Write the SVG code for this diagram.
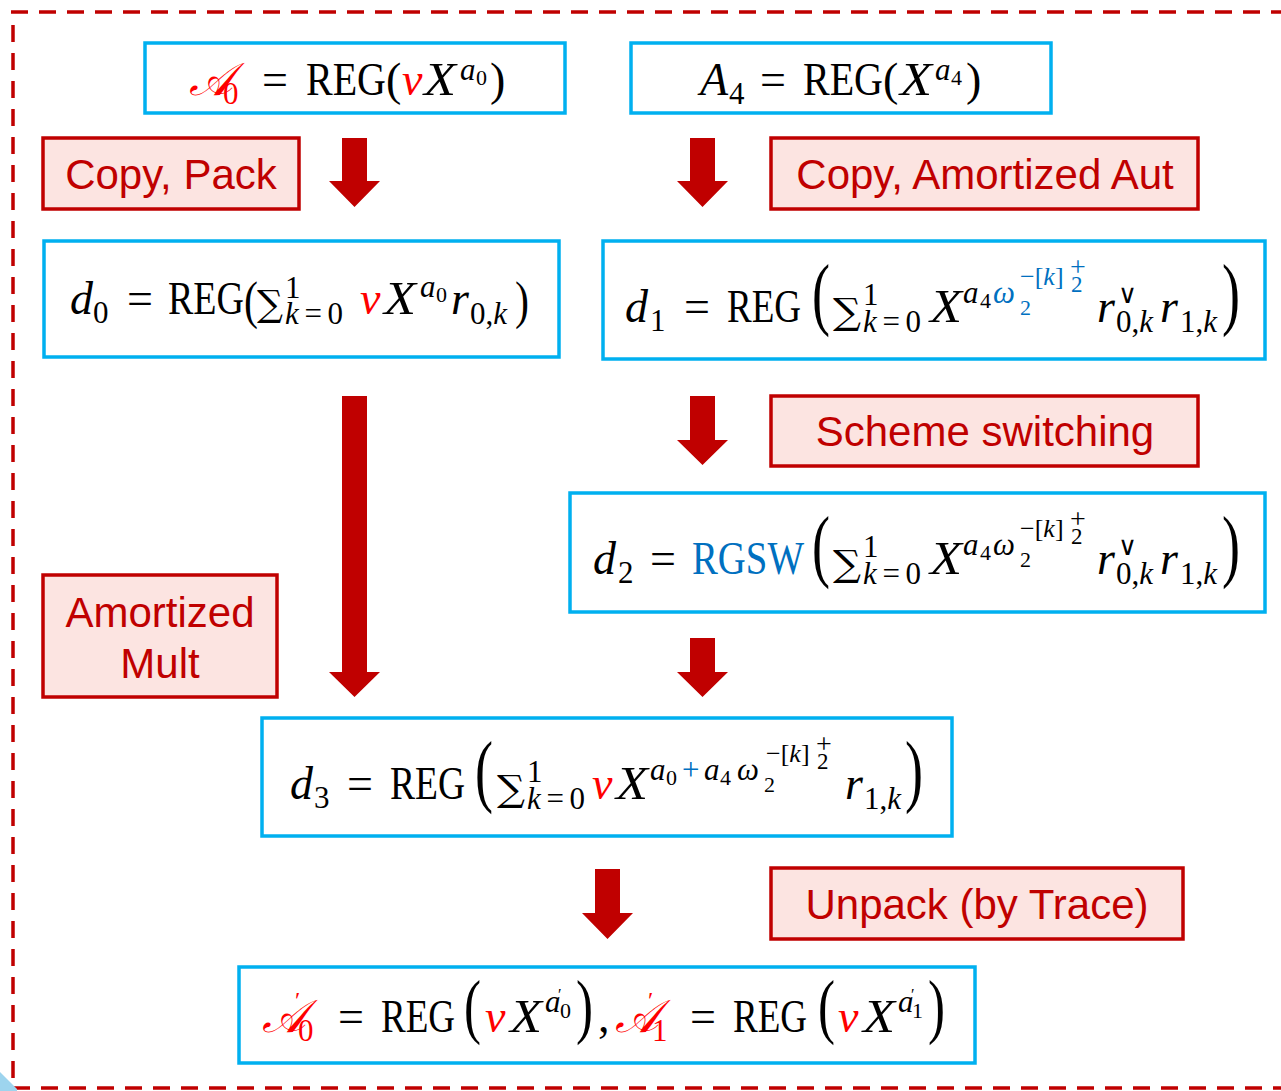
<svg xmlns="http://www.w3.org/2000/svg" width="1281" height="1091" viewBox="0 0 1281 1091">
<style>
.frame{fill:none;stroke:#C00000;stroke-width:3.5;stroke-dasharray:17 11}
.mb{fill:#FFFFFF;stroke:#00B0F0;stroke-width:3.5}
.lb{fill:#FCE4E1;stroke:#C00000;stroke-width:3.5}
.lt{font-family:"Liberation Sans",Arial,sans-serif;font-size:42px;fill:#C00000;text-anchor:middle}
.arr{fill:#C00000}
.m{font-family:"Liberation Serif","DejaVu Serif",serif;font-size:46px;fill:#000}
.i{font-style:italic}
.r{fill:#FF0000}
.b{fill:#0070C0}
.s{font-size:31px}
.ss{font-size:22px}
.e{font-size:26px}
.t{font-size:23px}
.pl{font-size:28px}
.sc{font-family:"DejaVu Serif","Noto Sans","DejaVu Sans","Liberation Serif",serif;font-style:italic;font-size:46px}
.bp{font-size:80px}
.mp{font-size:52px}
.fp{font-size:72px}
.sum{font-family:"DejaVu Serif","Liberation Serif",serif;font-size:36px}
.vee{font-size:26px}
.pr{font-size:24px}
.pr2{font-size:16px}
</style>
<path class="frame" d="M11,12 H1281 M13,25 V1088 M13,1088 H1281"/>
<polygon points="0,1072 17,1089 17,1091 0,1091" fill="#9DD4EE"/>

<g id="connectors">
<polygon class="arr" points="342,138 367,138 367,181 380,181 354.5,207 329,181 342,181"/>
<polygon class="arr" points="690,138 715,138 715,181 728,181 702.5,207 677,181 690,181"/>
<polygon class="arr" points="342,396 367,396 367,672 380,672 354.5,697 329,672 342,672"/>
<polygon class="arr" points="690,396 715,396 715,440 728,440 702.5,465 677,440 690,440"/>
<polygon class="arr" points="690,638 715,638 715,672 728,672 702.5,697 677,672 690,672"/>
<polygon class="arr" points="595,869 620,869 620,913 633,913 607.5,939 582,913 595,913"/>
</g>

<g id="n-a0">
<rect class="mb" x="145" y="43" width="420" height="70"/>
<text class="m sc r" x="189" y="95">𝒜</text>
<text class="m r s" x="223" y="104">0</text>
<text class="m" x="262" y="95">=</text>
<text class="m" x="306" y="95" textLength="80" lengthAdjust="spacingAndGlyphs">REG</text>
<text class="m" x="386" y="95">(</text>
<text class="m i r" x="402" y="95">v</text>
<text class="m i" x="424" y="95" textLength="32" lengthAdjust="spacingAndGlyphs">X</text>
<text class="m i s" x="460" y="80">a</text>
<text class="m ss" x="476" y="85">0</text>
<text class="m" x="490" y="95">)</text>
</g>

<g id="n-a4">
<rect class="mb" x="631" y="43" width="420" height="70"/>
<text class="m i" x="700" y="95">A</text>
<text class="m s" x="729" y="104">4</text>
<text class="m" x="760" y="95">=</text>
<text class="m" x="803" y="95" textLength="80" lengthAdjust="spacingAndGlyphs">REG</text>
<text class="m" x="883" y="95">(</text>
<text class="m i" x="900" y="95" textLength="32" lengthAdjust="spacingAndGlyphs">X</text>
<text class="m i s" x="935" y="80">a</text>
<text class="m ss" x="951" y="85">4</text>
<text class="m" x="966" y="95">)</text>
</g>

<g id="n-copypack">
<rect class="lb" x="43" y="138" width="256" height="71"/>
<text class="lt" x="171" y="189">Copy, Pack</text>
</g>

<g id="n-copyaut">
<rect class="lb" x="771" y="138" width="427" height="71"/>
<text class="lt" x="985" y="189">Copy, Amortized Aut</text>
</g>

<g id="n-d0">
<rect class="mb" x="44" y="241" width="515" height="116"/>
<text class="m i" x="70" y="314">d</text>
<text class="m s" x="93" y="323">0</text>
<text class="m" x="127" y="314">=</text>
<text class="m" x="168" y="314" textLength="76" lengthAdjust="spacingAndGlyphs">REG</text>
<text class="m mp" x="244" y="318" textLength="14" lengthAdjust="spacingAndGlyphs">(</text>
<text class="m sum" x="257" y="316" textLength="26" lengthAdjust="spacingAndGlyphs">∑</text>
<text class="m s" x="285" y="298">1</text>
<text class="m s" x="285" y="324" textLength="58" lengthAdjust="spacing"><tspan class="i">k</tspan>=0</text>
<text class="m i r" x="360" y="314">v</text>
<text class="m i" x="384" y="314" textLength="32" lengthAdjust="spacingAndGlyphs">X</text>
<text class="m i s" x="420" y="297">a</text>
<text class="m ss" x="436" y="302">0</text>
<text class="m i" x="451" y="314">r</text>
<text class="m s" x="470" y="324">0,<tspan class="i">k</tspan></text>
<text class="m mp" x="515" y="318" textLength="14" lengthAdjust="spacingAndGlyphs">)</text>
</g>

<g id="n-d1">
<rect class="mb" x="603" y="241" width="662" height="118"/>
<text class="m i" x="625" y="322">d</text>
<text class="m s" x="650" y="331">1</text>
<text class="m" x="684" y="322">=</text>
<text class="m" x="727" y="322" textLength="74" lengthAdjust="spacingAndGlyphs">REG</text>
<text class="m bp" x="812" y="320" textLength="18" lengthAdjust="spacingAndGlyphs">(</text>
<text class="m sum" x="833" y="324" textLength="28" lengthAdjust="spacingAndGlyphs">∑</text>
<text class="m s" x="863" y="305">1</text>
<text class="m s" x="863" y="332" textLength="58" lengthAdjust="spacing"><tspan class="i">k</tspan>=0</text>
<text class="m i" x="930" y="322" textLength="32" lengthAdjust="spacingAndGlyphs">X</text>
<text class="m i s" x="963" y="303">a</text>
<text class="m ss" x="980" y="308">4</text>
<text class="m i s b" x="993" y="303">ω</text>
<text class="m ss b" x="1020" y="315">2</text>
<text class="m e b" x="1020" y="285">−[<tspan class="i">k</tspan>]</text>
<text class="m t b" x="1071" y="292">2</text>
<text class="m pl b" x="1070" y="276">+</text>
<text class="m i" x="1097" y="322">r</text>
<text class="m vee" x="1118" y="303">∨</text>
<text class="m s" x="1116" y="332">0,<tspan class="i">k</tspan></text>
<text class="m i" x="1160" y="322">r</text>
<text class="m s" x="1180" y="332">1,<tspan class="i">k</tspan></text>
<text class="m bp" x="1222" y="320" textLength="18" lengthAdjust="spacingAndGlyphs">)</text>
</g>

<g id="n-scheme">
<rect class="lb" x="771" y="396" width="427" height="70"/>
<text class="lt" x="985" y="446">Scheme switching</text>
</g>

<g id="n-d2">
<rect class="mb" x="570" y="493" width="695" height="119"/>
<text class="m i" x="593" y="574">d</text>
<text class="m s" x="618" y="583">2</text>
<text class="m" x="650" y="574">=</text>
<text class="m b" x="692" y="574" textLength="112" lengthAdjust="spacingAndGlyphs">RGSW</text>
<text class="m bp" x="812" y="572" textLength="18" lengthAdjust="spacingAndGlyphs">(</text>
<text class="m sum" x="833" y="576" textLength="28" lengthAdjust="spacingAndGlyphs">∑</text>
<text class="m s" x="863" y="557">1</text>
<text class="m s" x="863" y="584" textLength="58" lengthAdjust="spacing"><tspan class="i">k</tspan>=0</text>
<text class="m i" x="930" y="574" textLength="32" lengthAdjust="spacingAndGlyphs">X</text>
<text class="m i s" x="963" y="555">a</text>
<text class="m ss" x="980" y="560">4</text>
<text class="m i s" x="993" y="555">ω</text>
<text class="m ss" x="1020" y="567">2</text>
<text class="m e" x="1020" y="537">−[<tspan class="i">k</tspan>]</text>
<text class="m t" x="1071" y="544">2</text>
<text class="m pl" x="1070" y="528">+</text>
<text class="m i" x="1097" y="574">r</text>
<text class="m vee" x="1118" y="555">∨</text>
<text class="m s" x="1116" y="584">0,<tspan class="i">k</tspan></text>
<text class="m i" x="1160" y="574">r</text>
<text class="m s" x="1180" y="584">1,<tspan class="i">k</tspan></text>
<text class="m bp" x="1222" y="572" textLength="18" lengthAdjust="spacingAndGlyphs">)</text>
</g>

<g id="n-mult">
<rect class="lb" x="43" y="575" width="234" height="122"/>
<text class="lt" x="160" y="627">Amortized</text>
<text class="lt" x="160" y="678">Mult</text>
</g>

<g id="n-d3">
<rect class="mb" x="262" y="718" width="690" height="118"/>
<text class="m i" x="290" y="799">d</text>
<text class="m s" x="314" y="808">3</text>
<text class="m" x="347" y="799">=</text>
<text class="m" x="390" y="799" textLength="75" lengthAdjust="spacingAndGlyphs">REG</text>
<text class="m bp" x="475" y="797" textLength="18" lengthAdjust="spacingAndGlyphs">(</text>
<text class="m sum" x="497" y="801" textLength="28" lengthAdjust="spacingAndGlyphs">∑</text>
<text class="m s" x="527" y="782">1</text>
<text class="m s" x="527" y="809" textLength="58" lengthAdjust="spacing"><tspan class="i">k</tspan>=0</text>
<text class="m i r" x="592" y="799">v</text>
<text class="m i" x="616" y="799" textLength="32" lengthAdjust="spacingAndGlyphs">X</text>
<text class="m i s" x="650" y="780">a</text>
<text class="m ss" x="666" y="785">0</text>
<text class="m s b" x="682" y="780">+</text>
<text class="m i s" x="704" y="780">a</text>
<text class="m ss" x="720" y="785">4</text>
<text class="m i s" x="737" y="780">ω</text>
<text class="m ss" x="764" y="792">2</text>
<text class="m e" x="766" y="762">−[<tspan class="i">k</tspan>]</text>
<text class="m t" x="817" y="769">2</text>
<text class="m pl" x="816" y="753">+</text>
<text class="m i" x="845" y="799">r</text>
<text class="m s" x="864" y="809">1,<tspan class="i">k</tspan></text>
<text class="m bp" x="905" y="797" textLength="18" lengthAdjust="spacingAndGlyphs">)</text>
</g>

<g id="n-unpack">
<rect class="lb" x="771" y="868" width="412" height="71"/>
<text class="lt" x="977" y="919">Unpack (by Trace)</text>
</g>

<g id="n-final">
<rect class="mb" x="239" y="967" width="736" height="96"/>
<text class="m sc r" x="262" y="1032">𝒜</text>
<text class="m r pr" x="295" y="1008">′</text>
<text class="m r s" x="298" y="1041">0</text>
<text class="m" x="338" y="1032">=</text>
<text class="m" x="381" y="1032" textLength="74" lengthAdjust="spacingAndGlyphs">REG</text>
<text class="m fp" x="464" y="1030" textLength="17" lengthAdjust="spacingAndGlyphs">(</text>
<text class="m i r" x="485" y="1032">v</text>
<text class="m i" x="510" y="1032" textLength="32" lengthAdjust="spacingAndGlyphs">X</text>
<text class="m i s" x="545" y="1012">a</text>
<text class="m pr2" x="558" y="1000">′</text>
<text class="m ss" x="560" y="1018">0</text>
<text class="m fp" x="576" y="1030" textLength="17" lengthAdjust="spacingAndGlyphs">)</text>
<text class="m" x="598" y="1032">,</text>
<text class="m sc r" x="615" y="1032">𝒜</text>
<text class="m r pr" x="648" y="1008">′</text>
<text class="m r s" x="652" y="1041">1</text>
<text class="m" x="690" y="1032">=</text>
<text class="m" x="733" y="1032" textLength="74" lengthAdjust="spacingAndGlyphs">REG</text>
<text class="m fp" x="818" y="1030" textLength="17" lengthAdjust="spacingAndGlyphs">(</text>
<text class="m i r" x="838" y="1032">v</text>
<text class="m i" x="863" y="1032" textLength="32" lengthAdjust="spacingAndGlyphs">X</text>
<text class="m i s" x="898" y="1012">a</text>
<text class="m pr2" x="911" y="1000">′</text>
<text class="m ss" x="912" y="1018">1</text>
<text class="m fp" x="928" y="1030" textLength="17" lengthAdjust="spacingAndGlyphs">)</text>
</g>
</svg>
